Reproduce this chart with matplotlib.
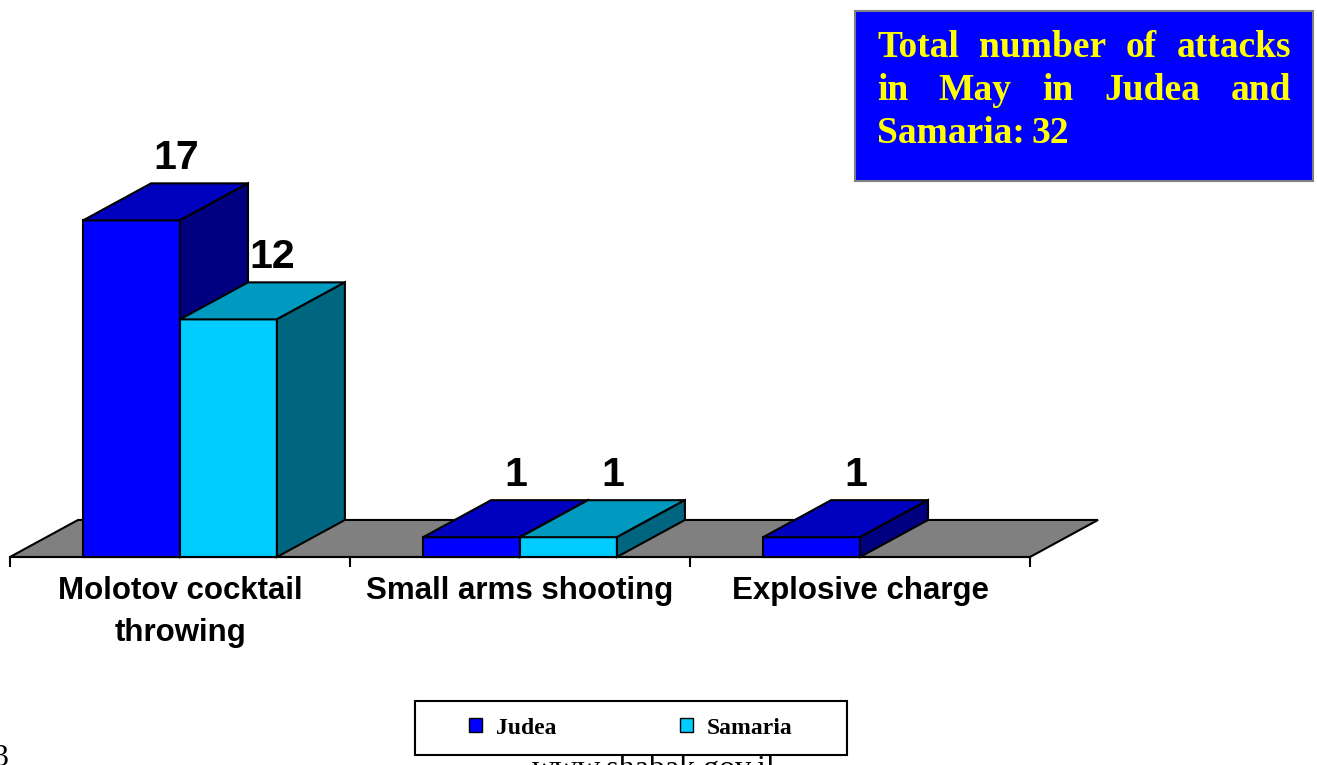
import matplotlib
matplotlib.use('Agg')
import matplotlib.pyplot as plt
from matplotlib.patches import Polygon, Rectangle

# data
categories = ['Molotov cocktail\nthrowing', 'Small arms shooting', 'Explosive charge']
series = ['Judea', 'Samaria']
judea = [17, 1, 1]
samaria = [12, 1, 0]
box_lines = [['Total', 'number', 'of', 'attacks'],
             ['in', 'May', 'in', 'Judea', 'and'],
             ['Samaria:', '32']]

# colours: front, top, side
colors = {'Judea': ('#0000FF', '#0000BF', '#000080'),
          'Samaria': ('#00CCFF', '#0099BF', '#006680')}

W, H = 1317, 765
fig = plt.figure(figsize=(W / 100, H / 100), dpi=100)
ax = fig.add_axes([0, 0, 1, 1])
ax.set_xlim(-0.5294, 3.344)
ax.set_ylim(-10.505, 28.13)
ax.axis('off')

DX, DY = 0.2, 1.87   # depth offset of the fake 3d
BW = 0.285           # bar width in category units
sans = 'Liberation Sans'
serif = 'Liberation Serif'


def box3d(x0, h, front, top, side):
    kw = dict(ec='black', lw=1.5, joinstyle='miter', zorder=3)
    ax.add_patch(Polygon([(x0, 0), (x0 + BW, 0), (x0 + BW, h), (x0, h)], fc=front, **kw))
    ax.add_patch(Polygon([(x0, h), (x0 + BW, h), (x0 + BW + DX, h + DY), (x0 + DX, h + DY)], fc=top, **kw))
    ax.add_patch(Polygon([(x0 + BW, 0), (x0 + BW + DX, DY), (x0 + BW + DX, h + DY), (x0 + BW, h)], fc=side, **kw))


n = len(categories)
# floor
ax.add_patch(Polygon([(-0.5, 0), (n - 0.5, 0), (n - 0.5 + DX, DY), (-0.5 + DX, DY)],
                     fc='#808080', ec='black', lw=1.5, zorder=1))
ax.plot([-0.5, n - 0.5], [0, 0], color='black', lw=1.5, zorder=2)
ax.vlines([i - 0.5 for i in range(n + 1)], -0.5, 0, color='black', lw=1.5, zorder=2)

for i, cat in enumerate(categories):
    for j, (name, vals) in enumerate(zip(series, [judea, samaria])):
        h = vals[i]
        if h == 0:
            continue
        x0 = i - BW + j * BW
        box3d(x0, h, *colors[name])
        ax.text(x0 + BW / 2 + 0.13, h + DY + 0.7, str(h), ha='center', va='baseline',
                fontsize=29.5, fontweight='bold', family=sans, zorder=5)
    ax.text(i, -0.95, cat, ha='center', va='top', fontsize=22.5, fontweight='bold',
            family=sans, linespacing=1.55)

# legend with its own frame
fig.add_artist(Rectangle((415 / W, 1 - 755 / H), 432 / W, 54 / H, transform=fig.transFigure,
                         fc='white', ec='black', lw=1.5, zorder=2))
handles = [Rectangle((0, 0), 1, 1, fc=colors[s][0], ec='black', lw=1) for s in series]
leg = fig.legend(handles, series, loc='center', bbox_to_anchor=(631 / W, 1 - 728 / H), ncol=2,
                 frameon=False, prop=dict(family=serif, weight='bold', size=17),
                 handlelength=0.55, handleheight=0.55, handletextpad=0.6, columnspacing=5.2)
leg.set_zorder(5)

fig.text(654 / W, 1 - 777 / H, 'www.shabak.gov.il', ha='center', va='baseline',
         fontsize=23, family=serif, zorder=1)
fig.text(-8 / W, 1 - 766 / H, '3', ha='left', va='baseline', fontsize=23, family=serif)

# blue total box with justified text
fig.add_artist(Rectangle((855 / W, 1 - 181 / H), 458 / W, 170 / H, transform=fig.transFigure,
                         fc='#0000FF', ec='#808080', lw=1.5, zorder=2))
renderer = fig.canvas.get_renderer()
left, right = 877, 1291
baselines = [57, 100, 143]
for k, (words, yb) in enumerate(zip(box_lines, baselines)):
    ts = [fig.text(0, 1 - yb / H, w, color='#FFFF00', fontsize=27, fontweight='bold',
                   family=serif, va='baseline', zorder=4) for w in words]
    widths = [t.get_window_extent(renderer).width for t in ts]
    if k < len(box_lines) - 1:
        gap = (right - left - sum(widths)) / (len(words) - 1)
    else:
        gap = 7
    x = left
    for t, w in zip(ts, widths):
        t.set_x(x / W)
        x += w + gap

fig.savefig('out.png', dpi=100, facecolor='white')
